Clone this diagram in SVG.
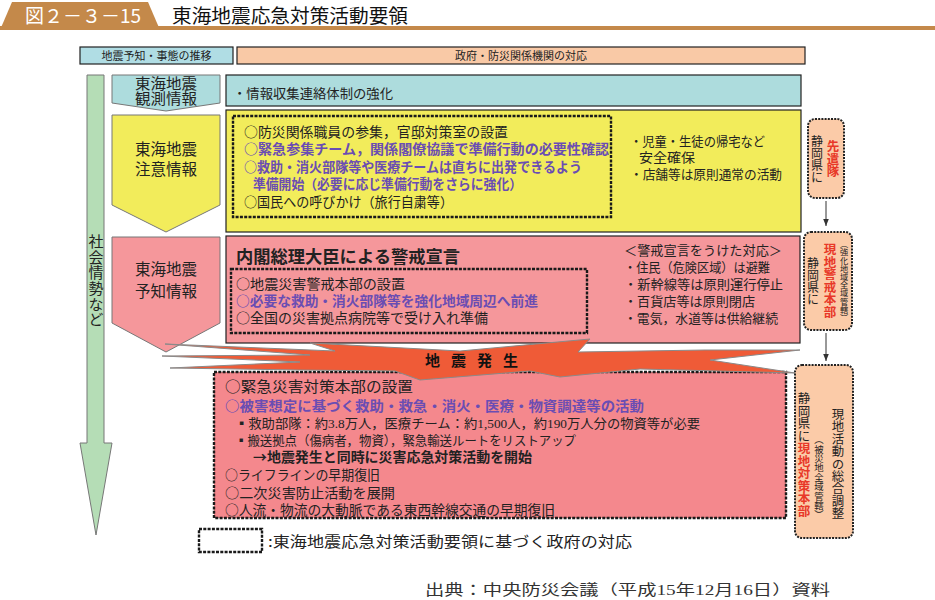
<svg xmlns="http://www.w3.org/2000/svg" width="935" height="600" viewBox="0 0 935 600">
<style>
text{font-family:"Noto Sans CJK JP","Noto Sans CJK SC",sans-serif;fill:#222}
.s14{font-size:13.6px}
.s13{font-size:12.8px}
.s11{font-size:11px}
.b{font-weight:bold}
.pur{fill:#6A4DB3;font-weight:bold}
.red{fill:#E83828;font-weight:bold}
.ser{font-family:"Liberation Serif",serif}
.dash{fill:none;stroke:#1a1a1a;stroke-width:2.4;stroke-dasharray:3 1.3}
.pent{stroke:#777;stroke-width:1}
.box{stroke:#222;stroke-width:1.2}
.vt{writing-mode:vertical-rl}
.rbox{fill:#FBCBA8;stroke:#222;stroke-width:2;stroke-dasharray:2 1.2}
</style>
<defs>
<marker id="ah" viewBox="0 0 10 10" refX="10" refY="5" markerWidth="7" markerHeight="7" orient="auto" markerUnits="userSpaceOnUse">
<path d="M0,1 L10,5 L0,9 Z" fill="#333"/>
</marker>
</defs>

<g id="header">
<rect x="0" y="26" width="935" height="4" fill="#C4894A"/>
<polygon points="0,30 12,2 148,2 160,30" fill="#C4894A"/>
<text x="25" y="23" style="font-size:19px;fill:#fff">図２－３－15</text>
<text x="172" y="23" style="font-size:19px;fill:#111" textLength="236" lengthAdjust="spacingAndGlyphs">東海地震応急対策活動要領</text>
</g>

<g id="colhead-left">
<rect x="80" y="47" width="153" height="17" fill="#B0DDE4" class="box"/>
<text x="156.5" y="60" class="s11" text-anchor="middle">地震予知・事態の推移</text>
</g>
<g id="colhead-right">
<rect x="237" y="47" width="568" height="17" fill="#F9C9A6" class="box"/>
<text x="521" y="60" class="s11" text-anchor="middle">政府・防災関係機関の対応</text>
</g>

<g id="social-arrow">
<polygon points="87,75 104,75 104,443 112,443 96,535 80,443 87,443" fill="#B5DDB6" stroke="#777" stroke-width="1"/>
<text x="96" y="234" class="vt" style="font-size:15px" letter-spacing="0.6">社会情勢など</text>
</g>

<g id="node-kansoku">
<polygon points="112,75 220,75 220,103 166,111 112,103" fill="#ADDCDD" class="pent"/>
<text x="135" y="89" style="font-size:14.5px" textLength="62" lengthAdjust="spacingAndGlyphs">東海地震</text>
<text x="135" y="104" style="font-size:14.5px" textLength="62" lengthAdjust="spacingAndGlyphs">観測情報</text>
</g>
<g id="node-chui">
<polygon points="112,115 220,115 220,205 166,232 112,205" fill="#F2EC5B" class="pent"/>
<text x="166" y="155" text-anchor="middle" style="font-size:15.5px">東海地震</text>
<text x="166" y="175" text-anchor="middle" style="font-size:15.5px">注意情報</text>
</g>
<g id="node-yochi">
<polygon points="112,237 220,237 220,323 166,352 112,323" fill="#F5979B" class="pent"/>
<text x="166" y="275" text-anchor="middle" style="font-size:15.5px">東海地震</text>
<text x="166" y="297" text-anchor="middle" style="font-size:15.5px">予知情報</text>
</g>

<g id="box-info">
<rect x="226" y="75" width="575" height="31" fill="#ADDCDD" class="box"/>
<text x="233" y="98" class="s13" textLength="160" lengthAdjust="spacingAndGlyphs">・情報収集連絡体制の強化</text>
</g>

<g id="box-chui">
<rect x="226" y="110" width="575" height="122" fill="#F2EC5B" class="box"/>
<rect x="233" y="116" width="378" height="101" class="dash"/>
<text x="244" y="137" class="s14" textLength="264" lengthAdjust="spacingAndGlyphs">○防災関係職員の参集，官邸対策室の設置</text>
<text x="244" y="154" class="s14 pur" textLength="365" lengthAdjust="spacingAndGlyphs">○緊急参集チーム，関係閣僚協議で準備行動の必要性確認</text>
<text x="244" y="172" class="s14 pur" textLength="338" lengthAdjust="spacingAndGlyphs">○救助・消火部隊等や医療チームは直ちに出発できるよう</text>
<text x="253" y="189" class="s14 pur" textLength="269" lengthAdjust="spacingAndGlyphs">準備開始（必要に応じ準備行動をさらに強化）</text>
<text x="244" y="207" class="s14" textLength="209" lengthAdjust="spacingAndGlyphs">○国民への呼びかけ（旅行自粛等）</text>
<text x="630" y="146" class="s13" textLength="135" lengthAdjust="spacingAndGlyphs">・児童・生徒の帰宅など</text>
<text x="639" y="162" class="s13" textLength="56" lengthAdjust="spacingAndGlyphs">安全確保</text>
<text x="630" y="179" class="s13" textLength="152" lengthAdjust="spacingAndGlyphs">・店舗等は原則通常の活動</text>
</g>

<g id="box-yochi">
<rect x="226" y="236" width="574" height="107" fill="#F5979B" class="box"/>
<text x="236" y="263" class="b" style="font-size:17px" textLength="224" lengthAdjust="spacingAndGlyphs">内閣総理大臣による警戒宣言</text>
<rect x="231" y="269" width="356" height="64" class="dash"/>
<text x="236" y="289" class="s14" textLength="169" lengthAdjust="spacingAndGlyphs">○地震災害警戒本部の設置</text>
<text x="236" y="306" class="s14 pur" textLength="302" lengthAdjust="spacingAndGlyphs">○必要な救助・消火部隊等を強化地域周辺へ前進</text>
<text x="236" y="323" class="s14" textLength="252" lengthAdjust="spacingAndGlyphs">○全国の災害拠点病院等で受け入れ準備</text>
<text x="624" y="255" class="s13" textLength="158" lengthAdjust="spacingAndGlyphs">＜警戒宣言をうけた対応＞</text>
<text x="624" y="272" class="s13" textLength="146" lengthAdjust="spacingAndGlyphs">・住民（危険区域）は避難</text>
<text x="624" y="289" class="s13" textLength="159" lengthAdjust="spacingAndGlyphs">・新幹線等は原則運行停止</text>
<text x="624" y="306" class="s13" textLength="131" lengthAdjust="spacingAndGlyphs">・百貨店等は原則閉店</text>
<text x="624" y="323" class="s13" textLength="154" lengthAdjust="spacingAndGlyphs">・電気，水道等は供給継続</text>
</g>

<g id="box-hassei">
<rect x="214" y="372" width="572" height="146" class="dash" style="fill:#F4888D"/>
<text x="225" y="392" style="font-size:14.5px" textLength="188" lengthAdjust="spacingAndGlyphs">○緊急災害対策本部の設置</text>
<text x="225" y="411" class="s14 pur" textLength="419" lengthAdjust="spacingAndGlyphs">○被害想定に基づく救助・救急・消火・医療・物資調達等の活動</text>
<text x="235" y="428" class="s13" textLength="465" lengthAdjust="spacingAndGlyphs">▪救助部隊：約<tspan class="ser">3.8</tspan>万人，医療チーム：約<tspan class="ser">1,500</tspan>人，約<tspan class="ser">190</tspan>万人分の物資等が必要</text>
<text x="235" y="445" class="s13" textLength="341" lengthAdjust="spacingAndGlyphs">▪搬送拠点（傷病者，物資），緊急輸送ルートをリストアップ</text>
<text x="253" y="462" class="s14 b" textLength="279" lengthAdjust="spacingAndGlyphs">→地震発生と同時に災害応急対策活動を開始</text>
<text x="225" y="480" class="s14" textLength="155" lengthAdjust="spacingAndGlyphs">○ライフラインの早期復旧</text>
<text x="225" y="498" class="s14" textLength="170" lengthAdjust="spacingAndGlyphs">○二次災害防止活動を展開</text>
<text x="225" y="515" class="s14" textLength="330" lengthAdjust="spacingAndGlyphs">○人流・物流の大動脈である東西幹線交通の早期復旧</text>
</g>

<g id="burst">
<polygon points="165,344 335,351 310,343 460,351 590,339 578,352 705,350 800,350 710,360 795,373 640,369 560,377 530,371 420,380 395,371 300,370 170,368 300,362 162,356 310,355" fill="#EF5B37" stroke="#8a8a8a" stroke-width="1"/>
<text x="425" y="366" class="b" style="font-size:15px;fill:#111" letter-spacing="11">地震発生</text>
</g>

<g id="node-senken">
<rect x="808" y="119" width="36" height="79" rx="7" class="rbox"/>
<text x="817" y="135" class="vt" style="font-size:12px">静岡県に</text>
<text x="833" y="140" class="vt red" style="font-size:12.5px">先遣隊</text>
</g>
<g id="node-keikai">
<rect x="804" y="232" width="48" height="98" rx="7" class="rbox"/>
<text x="813" y="257" class="vt" style="font-size:12px">静岡県に</text>
<text x="830" y="243" class="vt red" style="font-size:12.5px">現地警戒本部</text>
<text x="844" y="240" class="vt" style="font-size:8.2px">（強化地域全域管轄）</text>
</g>
<g id="node-taisaku">
<rect x="795" y="365" width="58" height="173" rx="7" class="rbox"/>
<text x="804" y="392" class="vt" style="font-size:12.5px">静岡県に<tspan class="red">現地対策本部</tspan></text>
<text x="819" y="435" class="vt" style="font-size:9.4px">（被災地全域管轄）</text>
<text x="838" y="408" class="vt" style="font-size:12.4px">現地活動の総合調整</text>
</g>

<g id="connectors">
<line x1="826" y1="201" x2="826" y2="226" stroke="#333" stroke-width="1" marker-end="url(#ah)"/>
<line x1="826" y1="333" x2="826" y2="361" stroke="#333" stroke-width="1" marker-end="url(#ah)"/>
</g>

<g id="legend">
<rect x="199" y="529" width="63" height="23" class="dash"/>
<text x="268" y="547" style="font-size:14.5px" textLength="364" lengthAdjust="spacingAndGlyphs">:東海地震応急対策活動要領に基づく政府の対応</text>
</g>

<g id="source">
<text x="425" y="595" style="font-size:14.5px;fill:#333;font-family:'Liberation Serif','Noto Sans CJK JP',serif" textLength="405" lengthAdjust="spacingAndGlyphs">出典：中央防災会議（平成15年12月16日）資料</text>
</g>
</svg>
